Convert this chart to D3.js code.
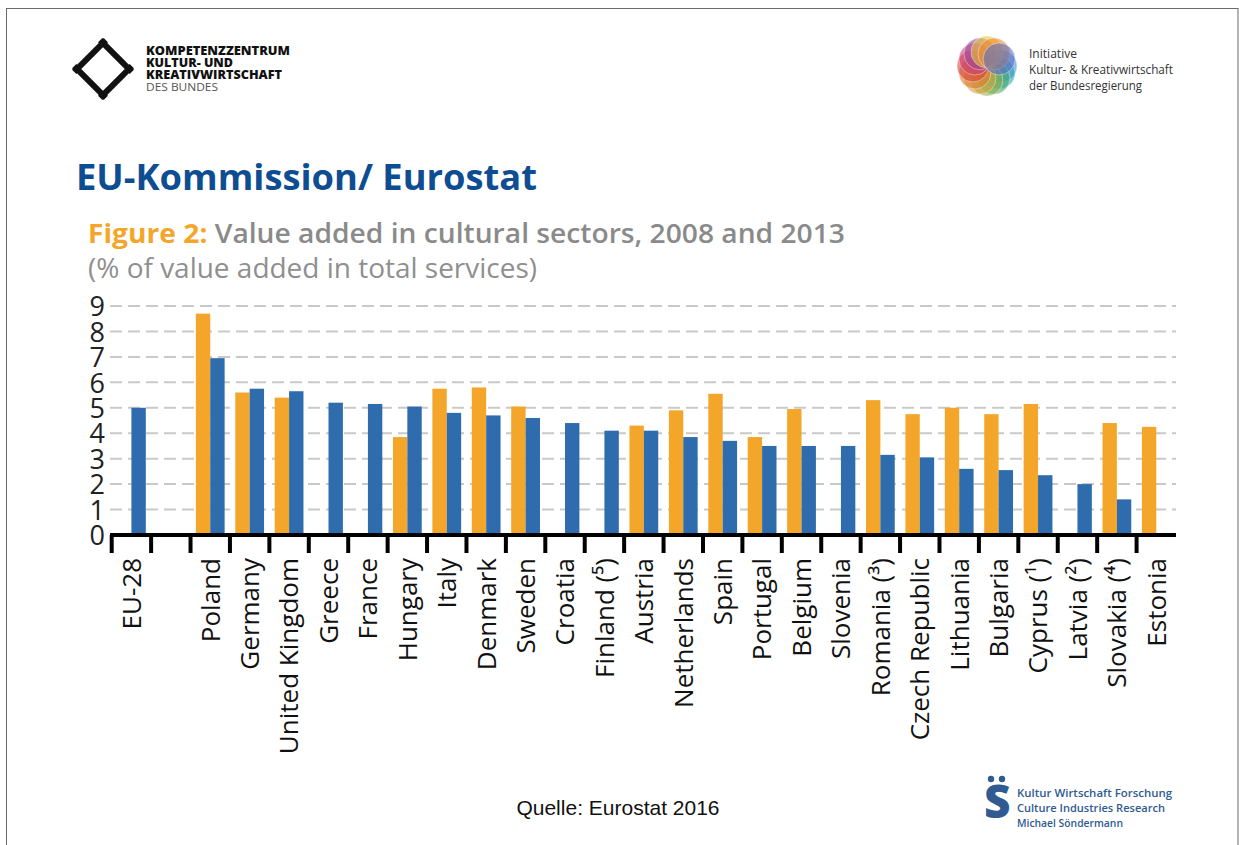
<!DOCTYPE html>
<html>
<head>
<meta charset="utf-8">
<script src="https://cdn.jsdelivr.net/npm/d3@7"></script>
<style>
  html, body { margin: 0; padding: 0; background: #fff; }
  svg { display: block; }
</style>
</head>
<body>
<svg id="chart" width="1239" height="845"></svg>
<script>
// Countries in display order (second slot is an empty spacer after EU-28)
const categories = [
  "EU-28", "", "Poland", "Germany", "United Kingdom", "Greece", "France",
  "Hungary", "Italy", "Denmark", "Sweden", "Croatia", "Finland (\u2075)",
  "Austria", "Netherlands", "Spain", "Portugal", "Belgium", "Slovenia",
  "Romania (\u00B3)", "Czech Republic", "Lithuania", "Bulgaria",
  "Cyprus (\u00B9)", "Latvia (\u00B2)", "Slovakia (\u2074)", "Estonia"
];

// Value added in cultural sectors, % of value added in total services
const values2008 = [
  null, null, 8.7, 5.6, 5.4, null, null, 3.85, 5.75, 5.8, 5.05, null, null,
  4.3, 4.9, 5.55, 3.85, 4.95, null, 5.3, 4.75, 5.0, 4.75, 5.15, null, 4.4, 4.25
];
const values2013 = [
  5.0, null, 6.95, 5.75, 5.65, 5.2, 5.15, 5.05, 4.8, 4.7, 4.6, 4.4, 4.1,
  4.1, 3.85, 3.7, 3.5, 3.5, 3.5, 3.15, 3.05, 2.6, 2.55, 2.35, 2.0, 1.4, null
];
const seriesKeys = ["2008", "2013"];
const yTicks = [0, 1, 2, 3, 4, 5, 6, 7, 8, 9];

const colors = { "2008": "#F4A62A", "2013": "#2E6CAE" };

const svg = d3.select("#chart");

// Slide frame
svg.append("rect")
  .attr("x", 6.5).attr("y", 8.5)
  .attr("width", 1231.5).attr("height", 845)
  .attr("fill", "none").attr("stroke", "#6a6a6a").attr("stroke-width", 1);

// ---------- Header logos ----------
// Left: diamond mark
const lg = svg.append("g");
const cx0 = 103, cy0 = 69, r0 = 26;
const corners = [[cx0, cy0 - r0], [cx0 + r0, cy0], [cx0, cy0 + r0], [cx0 - r0, cy0]];
for (let i = 0; i < 4; i++) {
  const a = corners[i], b = corners[(i + 1) % 4];
  const dx = b[0] - a[0], dy = b[1] - a[1];
  const len = Math.hypot(dx, dy), ex = 4 * dx / len, ey = 4 * dy / len;
  lg.append("line")
    .attr("x1", a[0] - ex).attr("y1", a[1] - ey)
    .attr("x2", b[0] + ex).attr("y2", b[1] + ey)
    .attr("stroke", "#111").attr("stroke-width", 6);
}
const leftLines = [
  { t: "KOMPETENZZENTRUM", y: 55, w: 144, bold: true },
  { t: "KULTUR- UND", y: 67, w: 87, bold: true },
  { t: "KREATIVWIRTSCHAFT", y: 79, w: 136, bold: true },
  { t: "DES BUNDES", y: 91, w: 72, bold: false }
];
leftLines.forEach(d => {
  svg.append("text")
    .attr("x", 146).attr("y", d.y)
    .attr("font-family", "'Open Sans', sans-serif")
    .attr("font-size", 11.5)
    .attr("font-weight", d.bold ? 800 : 400)
    .attr("fill", d.bold ? "#111" : "#555")
    .attr("textLength", d.w).attr("lengthAdjust", "spacingAndGlyphs")
    .text(d.t);
});

// Right: rosette mark
const ros = svg.append("g").attr("transform", "translate(987,66)");
const rosColors = ["#3f8fd0", "#2a9fb8", "#4aa86a", "#8fb04a", "#d4a23a", "#e07a2e",
                   "#d9443a", "#c93f73", "#9b4a9c", "#e5c53a", "#f08a2a", "#5b6fc4"];
rosColors.forEach((c, i) => {
  const a = (i / rosColors.length) * 2 * Math.PI;
  ros.append("circle")
    .attr("cx", 14 * Math.cos(a)).attr("cy", 14 * Math.sin(a))
    .attr("r", 16)
    .attr("fill", c).attr("fill-opacity", 0.6)
    .attr("stroke", "#fff").attr("stroke-opacity", 0.5).attr("stroke-width", 0.8);
});
const rightLines = [
  { t: "Initiative", y: 58, w: 48 },
  { t: "Kultur- & Kreativwirtschaft", y: 74, w: 144 },
  { t: "der Bundesregierung", y: 90, w: 113 }
];
rightLines.forEach(d => {
  svg.append("text")
    .attr("x", 1029).attr("y", d.y)
    .attr("font-family", "'Open Sans', sans-serif")
    .attr("font-size", 12.5)
    .attr("fill", "#333")
    .attr("textLength", d.w).attr("lengthAdjust", "spacingAndGlyphs")
    .text(d.t);
});

// ---------- Titles ----------
svg.append("text")
  .attr("x", 76).attr("y", 190)
  .attr("font-family", "'Open Sans', sans-serif")
  .attr("font-size", 35).attr("font-weight", 700)
  .attr("fill", "#0E4D92")
  .attr("textLength", 461).attr("lengthAdjust", "spacingAndGlyphs")
  .text("EU-Kommission/ Eurostat");

const sub1 = svg.append("text")
  .attr("x", 88).attr("y", 243)
  .attr("font-family", "'Open Sans', sans-serif")
  .attr("font-size", 27)
  .attr("textLength", 757).attr("lengthAdjust", "spacingAndGlyphs");
sub1.append("tspan").attr("font-weight", 700).attr("fill", "#F4A62A").text("Figure 2: ");
sub1.append("tspan").attr("font-weight", 600).attr("fill", "#8a8a8a")
  .text("Value added in cultural sectors, 2008 and 2013");

svg.append("text")
  .attr("x", 88).attr("y", 278)
  .attr("font-family", "'Open Sans', sans-serif")
  .attr("font-size", 27).attr("font-weight", 400)
  .attr("fill", "#8f8f8f")
  .attr("textLength", 449).attr("lengthAdjust", "spacingAndGlyphs")
  .text("(% of value added in total services)");

// ---------- Chart ----------
const x0 = d3.scaleBand()
  .domain(d3.range(categories.length))
  .range([111.7, 1176])
  .paddingInner(0).paddingOuter(0);

const x1 = d3.scaleBand()
  .domain(seriesKeys)
  .range([0, x0.bandwidth()])
  .paddingInner(0).paddingOuter(0.37);

const y = d3.scaleLinear().domain([0, 9]).range([535, 306]);

// Dashed gridlines
svg.append("g")
  .selectAll("line")
  .data(yTicks.filter(t => t > 0))
  .join("line")
  .attr("x1", 110).attr("x2", 1176)
  .attr("y1", d => y(d)).attr("y2", d => y(d))
  .attr("stroke", "#c9c9c9").attr("stroke-width", 2)
  .attr("stroke-dasharray", "12,6");

// Y axis labels
const yAxis = d3.axisLeft(y).tickValues(yTicks).tickSize(0).tickPadding(0).tickFormat(d3.format("d"));
const yg = svg.append("g").attr("transform", "translate(105,0)").call(yAxis);
yg.select(".domain").remove();
yg.selectAll("text")
  .attr("font-family", "'Open Sans', sans-serif")
  .attr("font-size", 27)
  .attr("fill", "#222")
  .attr("dy", "0.36em");

// Bars
const rows = categories.map((c, i) => ({ i, "2008": values2008[i], "2013": values2013[i] }));
const groups = svg.append("g").selectAll("g")
  .data(rows)
  .join("g")
  .attr("transform", d => `translate(${x0(d.i)},0)`);

groups.selectAll("rect")
  .data(d => seriesKeys.map(k => ({ key: k, value: d[k] })).filter(e => e.value != null))
  .join("rect")
  .attr("x", d => x1(d.key))
  .attr("width", x1.bandwidth())
  .attr("y", d => y(d.value))
  .attr("height", d => y(0) - y(d.value))
  .attr("fill", d => colors[d.key]);

// X axis: thick baseline, ticks at slot boundaries, rotated labels
svg.append("line")
  .attr("x1", 110).attr("x2", 1176)
  .attr("y1", y(0)).attr("y2", y(0))
  .attr("stroke", "#000").attr("stroke-width", 4);

svg.append("g").selectAll("line")
  .data(d3.range(categories.length))
  .join("line")
  .attr("x1", d => x0(d)).attr("x2", d => x0(d))
  .attr("y1", y(0)).attr("y2", y(0) + 18)
  .attr("stroke", "#000").attr("stroke-width", 4);

svg.append("g").selectAll("text")
  .data(rows)
  .join("text")
  .attr("transform", d => `translate(${x0(d.i) + x0.bandwidth() / 2},558) rotate(-90)`)
  .attr("text-anchor", "end")
  .attr("dy", "0.36em")
  .attr("font-family", "'Open Sans', sans-serif")
  .attr("font-size", 26)
  .attr("fill", "#111")
  .text(d => categories[d.i]);

// ---------- Footer ----------
svg.append("text")
  .attr("x", 618).attr("y", 815)
  .attr("text-anchor", "middle")
  .attr("font-family", "'Liberation Sans', Arial, sans-serif")
  .attr("font-size", 21)
  .attr("fill", "#111")
  .text("Quelle: Eurostat 2016");

// Bottom-right mark
svg.append("text")
  .attr("x", 984).attr("y", 818)
  .attr("font-family", "'Open Sans', sans-serif")
  .attr("font-size", 46).attr("font-weight", 800)
  .attr("fill", "#2F5A92")
  .text("S");
[991, 1002].forEach(cx => {
  svg.append("circle").attr("cx", cx).attr("cy", 779).attr("r", 3.2).attr("fill", "#2F5A92");
});
const brLines = [
  { t: "Kultur Wirtschaft Forschung", y: 797, w: 155 },
  { t: "Culture Industries Research", y: 812, w: 148 },
  { t: "Michael S\u00F6ndermann", y: 827, w: 106 }
];
brLines.forEach(d => {
  svg.append("text")
    .attr("x", 1017).attr("y", d.y)
    .attr("font-family", "'Open Sans', sans-serif")
    .attr("font-size", 11.5).attr("font-weight", 600)
    .attr("fill", "#2F5A92")
    .attr("textLength", d.w).attr("lengthAdjust", "spacingAndGlyphs")
    .text(d.t);
});
</script>
</body>
</html>
